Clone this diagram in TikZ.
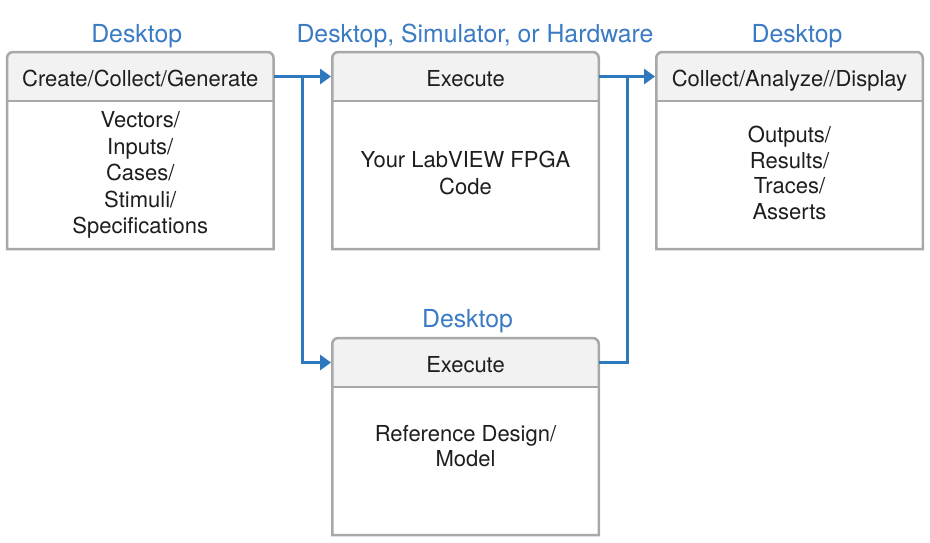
\documentclass[tikz,border=0pt]{standalone}
\usepackage{fontspec}
\setmainfont{TeX Gyre Heros}
\usetikzlibrary{arrows.meta,backgrounds,calc}
\definecolor{flow}{HTML}{2E78BE}
\definecolor{lbl}{HTML}{3A7BC4}
\definecolor{edge}{HTML}{A8A8A8}
\definecolor{hdrbg}{HTML}{F2F2F2}
\definecolor{ink}{HTML}{1E1E1E}
\begin{document}
\begin{tikzpicture}[x=1pt,y=-1pt,
 boxnode/.style={minimum width=266.5pt,minimum height=197pt,inner sep=0pt,outer sep=0pt},
 hdr/.style={minimum width=266.5pt,minimum height=49pt,inner sep=0pt,outer sep=0pt,anchor=north,
   text=ink,text height=19pt,text depth=0pt,font=\fontsize{22}{26}\selectfont},
 body/.style={align=center,text=ink,inner sep=0pt},
 place/.style={text=lbl,anchor=base,inner sep=0pt,font=\fontsize{24.8}{28}\selectfont},
 frame/.style={draw=edge,line width=2.5pt},
 conn/.style={draw=flow,line width=3pt},
 tip/.style={-{Triangle[length=11pt,width=15pt]},shorten >=1.2pt}]
\useasboundingbox (0,0) rectangle (930,542);

% boxes
\node[boxnode] (b1) at (140.25,150.5) {};
\node[boxnode] (b2) at (465.5,150.5) {};
\node[boxnode] (b3) at (789.5,150.5) {};
\node[boxnode] (b4) at (465.5,436.5) {};

% headers
\node[hdr] (h1) at (b1.north) {Create/Collect/Generate};
\node[hdr] (h2) at (b2.north) {Execute};
\node[hdr] (h3) at (b3.north) {Collect/Analyze//Display};
\node[hdr] (h4) at (b4.north) {Execute};

\begin{scope}[on background layer]
  \fill[white] (0,0) rectangle (930,542);
  \foreach \i in {1,2,3,4}{
    \fill[hdrbg] (h\i.south west) [rounded corners=6pt] -- (h\i.north west) -- (h\i.north east) [sharp corners] -- (h\i.south east) -- cycle;
  }
\end{scope}
\foreach \i in {1,2,3,4}{
  \draw[frame] (b\i.south west) [rounded corners=6pt] -- (b\i.north west) -- (b\i.north east) [sharp corners] -- (b\i.south east) -- cycle;
  \draw[frame] (h\i.south west) -- (h\i.south east);
}

% body texts
\node[body,font=\fontsize{22}{26.5}\selectfont] (t1) at (140.25,175) {Vectors/\\Inputs/\\Cases/\\Stimuli/\\Specifications};
\node[body,font=\fontsize{22}{26.6}\selectfont] (t2) at (465.5,173) {Your LabVIEW FPGA\\Code};
\node[body,font=\fontsize{22}{25.7}\selectfont] (t3) at (789.5,173) {Outputs/\\Results/\\Traces/\\Asserts};
\node[body,font=\fontsize{22}{25}\selectfont] (t4) at (465.5,446.5) {Reference Design/\\Model};

% location labels
\node[place] (l1) at (136.7,42) {Desktop};
\node[place] (l2) at (475,42) {Desktop, Simulator, or Hardware};
\node[place] (l3) at (797,42) {Desktop};
\node[place] (l4) at (467.5,327) {Desktop};

% connectors
\coordinate (j1) at ($(h1.east)!0.5!(h2.west)$);
\coordinate (j2) at ($(h2.east)!0.5!(h3.west)$);
\draw[conn,tip] (h1.east) -- (h2.west);
\draw[conn,tip] (h2.east) -- (h3.west);
\draw[conn,tip] (j1) |- (h4.west);
\draw[conn] (j2) |- (h4.east);
\end{tikzpicture}
\end{document}
